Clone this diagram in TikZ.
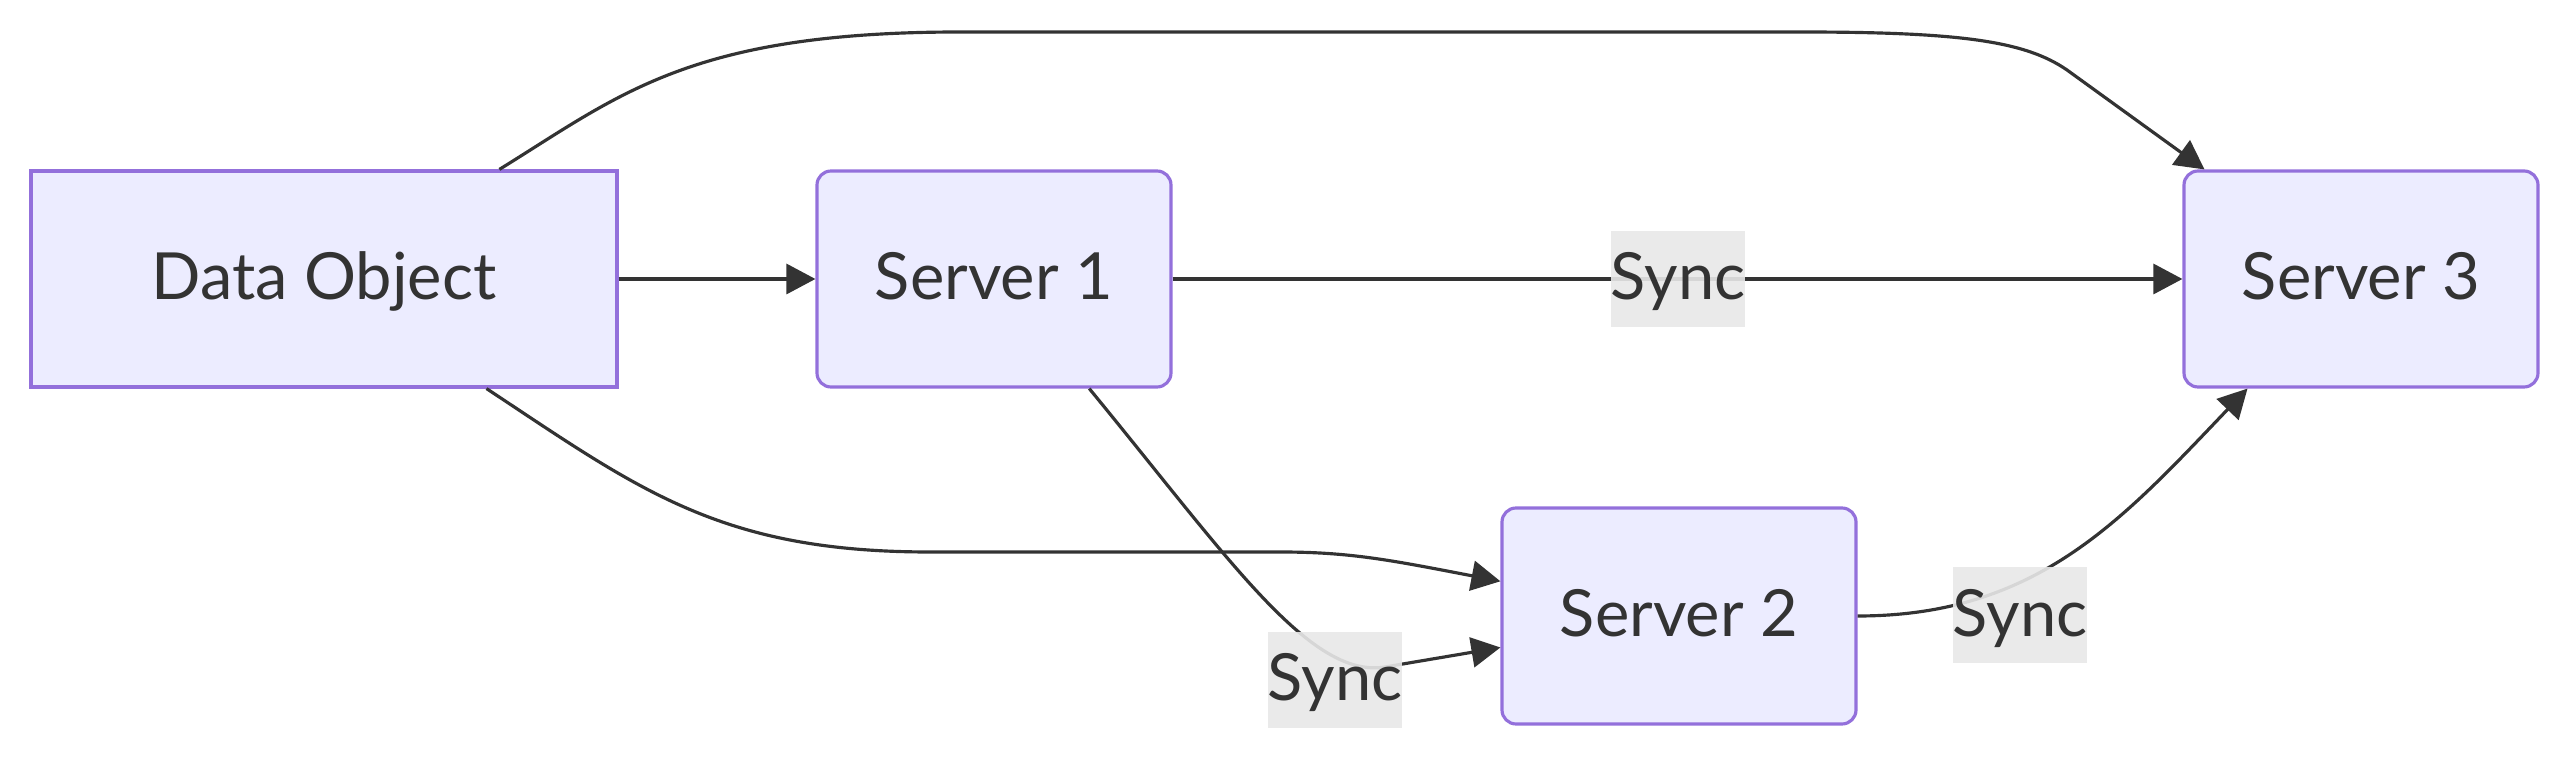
\documentclass[tikz,border=0pt]{standalone}
\usepackage{fontspec}
\setmainfont{Lato}
\usetikzlibrary{arrows.meta}

\begin{document}
\begin{tikzpicture}[x=1cm,y=1cm,
  box/.style={draw=cbord,fill=cfill,line width=0.9pt,text=ctext,inner sep=0pt,
    minimum height=2.16cm,text height=0.47cm,text depth=0.05cm,font=\fontsize{18.5}{22}\selectfont},
  srvbox/.style={box,rounded corners=0.14cm,minimum width=3.54cm},
  lbl/.style={fill=clbl,fill opacity=0.9,text opacity=1,text=ctext,inner sep=0pt,
    minimum width=1.27cm,minimum height=0.96cm,text height=0.47cm,text depth=0.05cm,font=\fontsize{18.5}{22}\selectfont},
  edge/.style={draw=cline,line width=0.9pt,-{Triangle[length=0.29cm,width=0.3cm]}}]
\definecolor{cfill}{HTML}{ECECFF}
\definecolor{cbord}{HTML}{9370DB}
\definecolor{ctext}{HTML}{333333}
\definecolor{cline}{HTML}{333333}
\definecolor{clbl}{HTML}{E8E8E8}
\useasboundingbox (0,0) rectangle (25.68,-7.60);
\node[box,minimum width=5.86cm] (dobj) at (3.24,-2.79) {Data Object};
\node[srvbox] (srv1) at (9.94,-2.79) {Server 1};
\node[srvbox] (srv2) at (16.79,-6.16) {Server 2};
\node[srvbox] (srv3) at (23.61,-2.79) {Server 3};
\draw[edge] (dobj.east) -- (srv1.west);
\draw[edge] (srv1.east) -- (srv3.west);
\draw[edge] (dobj.32.4) .. controls (6.2,-0.95) and (6.9,-0.32) .. (9.6,-0.32) -- (18.0,-0.32)
  .. controls (19.6,-0.32) and (20.25,-0.41) .. (20.67,-0.70) -- (srv3.145);
\draw[edge] (dobj.-34.9) .. controls (6.4,-4.9) and (7.2,-5.52) .. (9.3,-5.52) -- (12.8,-5.52)
  .. controls (13.5,-5.52) and (13.9,-5.6) .. (srv2.169.6);
\draw[edge] (srv1.-49.5) .. controls (12.3,-5.6) and (13.1,-6.79) .. (13.85,-6.67) -- (srv2.190.7);
\draw[edge] (srv2.east) .. controls (20.37,-6.16) and (21.22,-5.2) .. (srv3.-136.3);
\node[lbl] (sync13) at (16.78,-2.79) {Sync};
\node[lbl] (sync12) at (13.35,-6.80) {Sync};
\node[lbl] (sync23) at (20.20,-6.155) {Sync};
\end{tikzpicture}
\end{document}
